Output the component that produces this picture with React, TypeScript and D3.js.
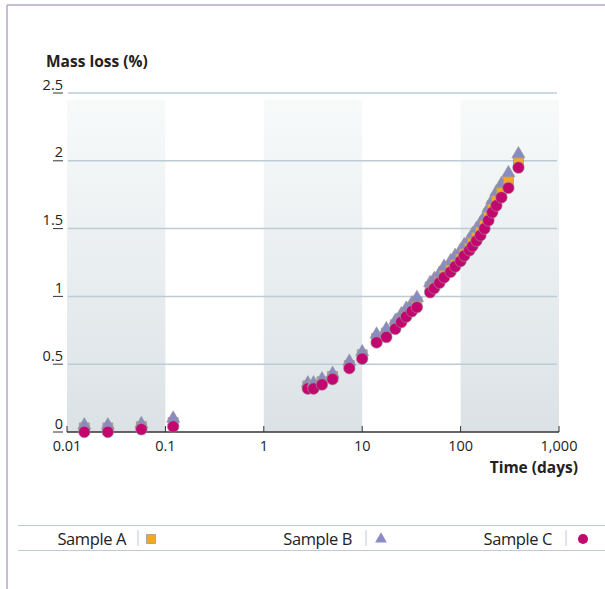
import React from "react";
import * as d3 from "d3";

// Sampling times (days) shared by all three samples
const days = [0.015, 0.026, 0.057, 0.12, 2.8, 3.2, 3.9, 5.0, 7.4, 10, 14, 17.6, 21.7, 25, 28, 32, 36, 49, 54, 61, 68, 79, 88, 100, 109, 123, 132, 145, 159, 175, 192, 210, 231, 260, 306, 387];

// Mass loss (%) per sample
const sampleA = [0.03, 0.03, 0.04, 0.07, 0.34, 0.34, 0.37, 0.41, 0.49, 0.57, 0.69, 0.73, 0.79, 0.84, 0.88, 0.92, 0.96, 1.07, 1.10, 1.14, 1.18, 1.22, 1.26, 1.30, 1.34, 1.38, 1.42, 1.46, 1.50, 1.55, 1.61, 1.67, 1.72, 1.78, 1.86, 2.00];
const sampleB = [0.05, 0.05, 0.06, 0.10, 0.36, 0.36, 0.39, 0.43, 0.52, 0.59, 0.72, 0.76, 0.82, 0.87, 0.91, 0.95, 0.99, 1.10, 1.13, 1.17, 1.22, 1.26, 1.30, 1.34, 1.38, 1.42, 1.46, 1.50, 1.54, 1.59, 1.65, 1.71, 1.77, 1.83, 1.91, 2.05];
const sampleC = [0.00, 0.00, 0.02, 0.04, 0.32, 0.32, 0.35, 0.39, 0.47, 0.54, 0.66, 0.70, 0.76, 0.81, 0.85, 0.89, 0.92, 1.03, 1.06, 1.10, 1.14, 1.18, 1.22, 1.26, 1.30, 1.34, 1.37, 1.41, 1.45, 1.50, 1.56, 1.62, 1.67, 1.73, 1.80, 1.95];

const xTickValues = [0.01, 0.1, 1, 10, 100, 1000];
const xTickLabels = ["0.01", "0.1", "1", "10", "100", "1,000"];
const yTickValues = [0, 0.5, 1, 1.5, 2, 2.5];
const yTickLabels = ["0", "0.5", "1", "1.5", "2", "2.5"];

// Shaded decades
const bands = [
  [0.01, 0.1],
  [1, 10],
  [100, 1000],
];
const bandTop = 2.45;

const seriesNames = ["Sample A", "Sample B", "Sample C"];

const FONT = "'Open Sans', 'Noto Sans', sans-serif";
const COL_A = "#f5a623";
const COL_B = "#8b8bc3";
const COL_C = "#c2086f";
const GRID = "#bccbd6";
const FRAME = "#b6a6cc";

export default function App() {
  const x = d3.scaleLog().domain([0.01, 1000]).range([67, 559]);
  const y = d3.scaleLinear().domain([0, 2.5]).range([432, 93]);

  const square = d3.symbol(d3.symbolSquare, 100)()!;
  const triangle = d3.symbol(d3.symbolTriangle, 75)()!;
  const circle = d3.symbol(d3.symbolCircle, 105)()!;

  const legendSquare = d3.symbol(d3.symbolSquare, 81)()!;
  const legendTriangle = d3.symbol(d3.symbolTriangle, 60)()!;
  const legendCircle = d3.symbol(d3.symbolCircle, 80)()!;

  const legendItems = [
    { name: seriesNames[0], textEnd: 126, sep: 138, mark: 151, path: legendSquare, fill: COL_A },
    { name: seriesNames[1], textEnd: 352, sep: 366, mark: 381, path: legendTriangle, fill: COL_B },
    { name: seriesNames[2], textEnd: 552, sep: 566, mark: 583, path: legendCircle, fill: COL_C },
  ];

  return (
    <svg
      width={605}
      height={589}
      style={{ position: "absolute", left: 0, top: 0, background: "#fff" }}
      fontFamily={FONT}
    >
      <defs>
        <linearGradient id="bandFill" x1="0" y1="0" x2="0" y2="1">
          <stop offset="0%" stopColor="#f8fafa" />
          <stop offset="100%" stopColor="#dbe2e6" />
        </linearGradient>
      </defs>

      {/* frame */}
      <line x1={7} y1={5} x2={605} y2={5} stroke={FRAME} strokeWidth={1.5} />
      <line x1={7} y1={5} x2={7} y2={589} stroke={FRAME} strokeWidth={1.5} />

      {/* shaded decades */}
      {bands.map(([a, b], i) => (
        <rect
          key={i}
          x={x(a)}
          y={y(bandTop)}
          width={x(b) - x(a)}
          height={y(0) - y(bandTop)}
          fill="url(#bandFill)"
        />
      ))}

      {/* gridlines and y ticks */}
      {yTickValues.map((v, i) => (
        <g key={v}>
          {v > 0 && (
            <line x1={x(0.01) + 1} x2={x(1000) - 2} y1={y(v)} y2={y(v)} stroke={GRID} strokeWidth={1.5} />
          )}
          <line x1={53} x2={63} y1={y(v)} y2={y(v)} stroke="#333" strokeWidth={1} />
          <text x={63} y={y(v) - 3.5} textAnchor="end" fontSize={14.5} fill="#222">
            {yTickLabels[i]}
          </text>
        </g>
      ))}

      {/* x axis */}
      <line x1={x(0.01)} x2={x(1000)} y1={y(0)} y2={y(0)} stroke="#333" strokeWidth={1.5} />
      {xTickValues.map((v, i) => (
        <g key={v}>
          <line x1={x(v)} x2={x(v)} y1={y(0)} y2={y(0) - 6} stroke="#333" strokeWidth={1} />
          <text x={x(v)} y={y(0) + 19} textAnchor="middle" fontSize={14.5} fill="#222">
            {xTickLabels[i]}
          </text>
        </g>
      ))}

      {/* axis titles */}
      <text x={46} y={67} fontSize={15.5} fontWeight="bold" fill="#222">
        Mass loss (%)
      </text>
      <text x={578} y={473} textAnchor="end" fontSize={15.5} fontWeight="bold" fill="#222">
        Time (days)
      </text>

      {/* markers */}
      {days.map((d, i) => (
        <g key={i}>
          <path d={square} transform={`translate(${x(d)},${y(sampleA[i])})`} fill={COL_A} stroke="#999" strokeWidth={0.8} />
          <path d={triangle} transform={`translate(${x(d)},${y(sampleB[i])})`} fill={COL_B} stroke="#999" strokeWidth={0.6} />
          <path d={circle} transform={`translate(${x(d)},${y(sampleC[i])})`} fill={COL_C} stroke="#999" strokeWidth={0.6} />
        </g>
      ))}

      {/* legend */}
      <line x1={18} x2={605} y1={525.5} y2={525.5} stroke={GRID} strokeWidth={1.2} />
      <line x1={18} x2={605} y1={550.5} y2={550.5} stroke={GRID} strokeWidth={1.2} />
      {legendItems.map((it) => (
        <g key={it.name}>
          <text x={it.textEnd} y={545} textAnchor="end" fontSize={16.5} letterSpacing={-0.4} fill="#222">
            {it.name}
          </text>
          <line x1={it.sep} x2={it.sep} y1={530} y2={546} stroke={GRID} strokeWidth={1} />
          <path
            d={it.path}
            transform={`translate(${it.mark},${539})`}
            fill={it.fill}
            stroke={it.fill === COL_A ? "#999" : "none"}
            strokeWidth={0.8}
          />
        </g>
      ))}
    </svg>
  );
}
